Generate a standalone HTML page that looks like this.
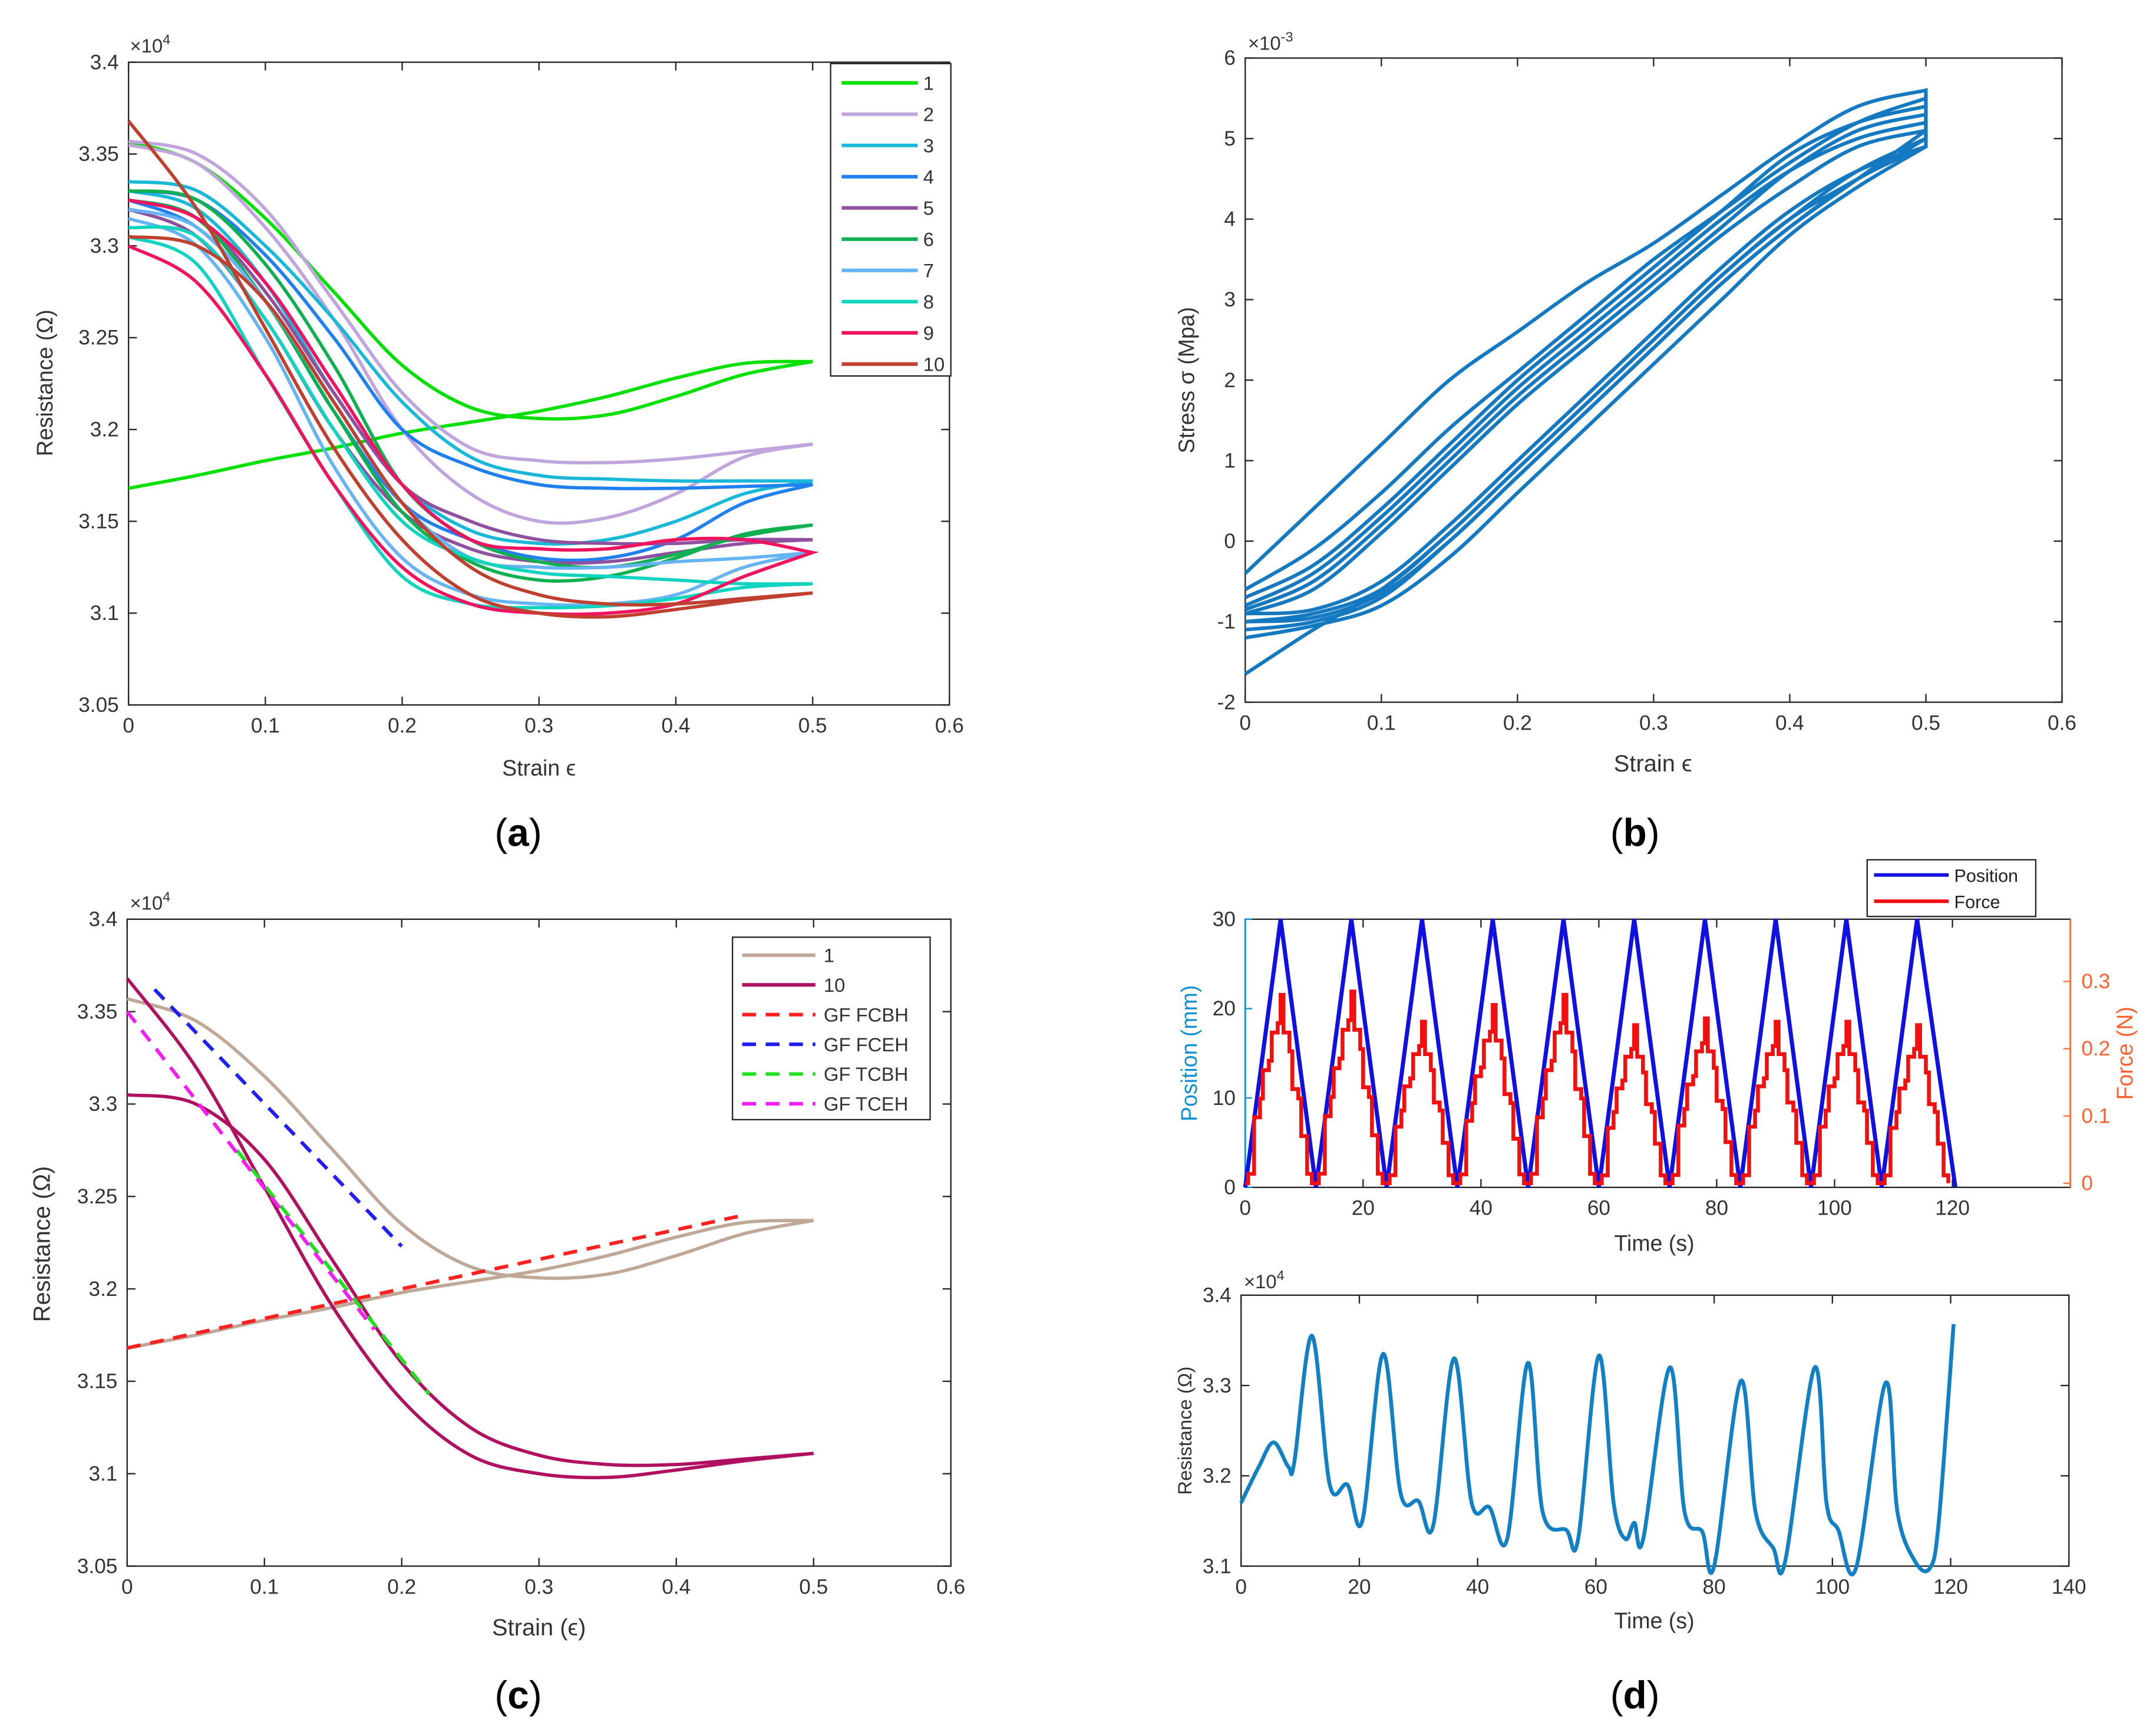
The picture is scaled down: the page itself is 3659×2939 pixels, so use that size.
<!DOCTYPE html>
<html><head><meta charset="utf-8"><style>
html,body{margin:0;padding:0;background:#fff;}
svg{display:block;}
text{font-family:"Liberation Sans",sans-serif;}
</style></head><body>
<svg id="fig" width="3659" height="2939" viewBox="0 0 1560 1253" preserveAspectRatio="none" xmlns="http://www.w3.org/2000/svg"></svg>
<script>
// ---------- DATA ----------
const strainGrid = [0,0.05,0.1,0.15,0.2,0.25,0.3,0.35,0.4,0.45,0.5];
const seriesNames = ["1","2","3","4","5","6","7","8","9","10"];
const seriesColors = ["#00e000","#c0a4dc","#1ab8d8","#2080f0","#9050a0","#10b050","#66b4f4","#10d4c0","#f01460","#c04030"];
const resUpper = [
 [3.357,3.345,3.315,3.275,3.235,3.212,3.206,3.208,3.218,3.23,3.237],
 [3.357,3.35,3.32,3.27,3.22,3.19,3.183,3.182,3.184,3.188,3.192],
 [3.335,3.33,3.3,3.26,3.215,3.185,3.175,3.173,3.172,3.172,3.172],
 [3.33,3.325,3.295,3.25,3.2,3.18,3.17,3.168,3.168,3.169,3.17],
 [3.325,3.315,3.275,3.22,3.17,3.15,3.14,3.138,3.138,3.14,3.14],
 [3.33,3.325,3.29,3.235,3.17,3.14,3.128,3.125,3.132,3.142,3.148],
 [3.32,3.31,3.27,3.215,3.16,3.13,3.125,3.125,3.128,3.13,3.133],
 [3.31,3.305,3.26,3.2,3.15,3.13,3.122,3.12,3.118,3.116,3.116],
 [3.325,3.315,3.28,3.225,3.17,3.14,3.135,3.135,3.14,3.14,3.133],
 [3.368,3.32,3.255,3.19,3.14,3.11,3.1,3.098,3.102,3.107,3.111]];
const resLower = [
 [3.168,3.175,3.183,3.19,3.198,3.204,3.21,3.218,3.228,3.236,3.237],
 [3.355,3.345,3.31,3.26,3.2,3.165,3.15,3.152,3.165,3.185,3.192],
 [3.33,3.32,3.28,3.22,3.17,3.145,3.138,3.14,3.15,3.165,3.172],
 [3.325,3.31,3.27,3.21,3.16,3.14,3.13,3.13,3.14,3.16,3.17],
 [3.32,3.305,3.26,3.2,3.155,3.135,3.128,3.128,3.133,3.138,3.14],
 [3.325,3.315,3.27,3.21,3.155,3.128,3.118,3.12,3.13,3.143,3.148],
 [3.315,3.3,3.25,3.18,3.13,3.11,3.105,3.105,3.11,3.125,3.133],
 [3.305,3.29,3.23,3.17,3.12,3.105,3.103,3.104,3.108,3.114,3.116],
 [3.3,3.28,3.23,3.17,3.125,3.105,3.1,3.1,3.105,3.12,3.133],
 [3.305,3.3,3.27,3.215,3.16,3.125,3.11,3.105,3.105,3.108,3.111]];
const stressUpper = [
 [-0.4,0.4,1.2,2.0,2.6,3.2,3.7,4.3,4.9,5.4,5.6],
 [-0.6,-0.1,0.6,1.4,2.1,2.8,3.5,4.1,4.7,5.2,5.5],
 [-0.8,-0.4,0.3,1.1,1.9,2.6,3.3,4.0,4.6,5.0,5.2],
 [-0.9,-0.6,0.1,0.9,1.7,2.4,3.1,3.8,4.4,4.9,5.1],
 [-0.85,-0.5,0.2,1.0,1.8,2.5,3.2,3.9,4.6,5.1,5.3],
 [-0.7,-0.3,0.4,1.2,2.0,2.7,3.4,4.1,4.8,5.2,5.4]];
const stressLower = [
 [-0.9,-0.85,-0.5,0.2,1.0,1.8,2.6,3.4,4.1,4.6,4.9],
 [-1.1,-1.0,-0.7,0.0,0.8,1.6,2.4,3.2,3.9,4.5,4.9],
 [-1.0,-0.9,-0.6,0.1,0.9,1.7,2.5,3.3,4.0,4.5,5.0],
 [-1.2,-1.05,-0.8,-0.2,0.6,1.4,2.2,3.0,3.8,4.4,4.9],
 [-1.65,-1.1,-0.6,0.1,0.9,1.7,2.5,3.3,4.0,4.6,5.0],
 [-1.0,-0.95,-0.65,0.0,0.8,1.6,2.4,3.2,3.9,4.5,5.1]];
const gfNames = ["GF FCBH","GF FCEH","GF TCBH","GF TCEH"];
const gfColors = ["#ff2020","#2020f0","#20e020","#f020f0"];
const gfX = [[0,0.45],[0.02,0.2],[0.08,0.22],[0,0.18]];
const gfY = [[3.168,3.24],[3.362,3.223],[3.275,3.143],[3.35,3.178]];
const posT = [0,6,12,18,24,30,36,42,48,54,60,66,72,78,84,90,96,102,108,114,120.5];
const posV = [0,30,0,30,0,30,0,30,0,30,0,30,0,30,0,30,0,30,0,30,0];
const forcePeaks = [0.28,0.285,0.24,0.265,0.28,0.235,0.245,0.24,0.24,0.235];
const forceShapeT = [0,0.5,1.5,2.5,3,4,4.5,5.5,6,6.5,7.5,8,9,9.5,10.5,11.3];
const forceShapeV = [0,0.05,0.35,0.45,0.6,0.65,0.8,0.85,1,0.8,0.7,0.5,0.45,0.25,0.05,-0.05];
const resT = [0,3,5.5,8,9,12,15,18,20.5,24,27,30,32.5,36,39,42,45,48.5,51,55,57,60.5,63,65,66.5,68,72.5,75,78,80,84.5,87,90,92,97,99,101,104,109,111,114,116.5,118,120.5];
const resV = [3.17,3.21,3.237,3.21,3.215,3.355,3.19,3.19,3.15,3.335,3.18,3.172,3.145,3.33,3.17,3.165,3.13,3.325,3.16,3.14,3.13,3.333,3.17,3.13,3.148,3.13,3.32,3.16,3.138,3.1,3.305,3.16,3.12,3.105,3.32,3.17,3.14,3.098,3.303,3.16,3.105,3.098,3.15,3.368];

// ---------- HELPERS ----------
const NS="http://www.w3.org/2000/svg";
const svg=document.getElementById('fig');
function mk(tag,attrs,parent){const e=document.createElementNS(NS,tag);for(const k in attrs)e.setAttribute(k,attrs[k]);(parent||svg).appendChild(e);return e;}
function txt(s,x,y,attrs,parent){const e=mk('text',Object.assign({x:x,y:y,'font-size':15,fill:'#333'},attrs||{}),parent);e.textContent=s;return e;}
function lin(d0,d1,r0,r1){return v=>r0+(v-d0)*(r1-r0)/(d1-d0);}
function smooth(pts){let d='M'+pts[0][0].toFixed(2)+','+pts[0][1].toFixed(2);for(let i=0;i<pts.length-1;i++){const p0=pts[i-1]||pts[i],p1=pts[i],p2=pts[i+1],p3=pts[i+2]||p2;const c1=[p1[0]+(p2[0]-p0[0])/6,p1[1]+(p2[1]-p0[1])/6],c2=[p2[0]-(p3[0]-p1[0])/6,p2[1]-(p3[1]-p1[1])/6];d+='C'+c1[0].toFixed(2)+','+c1[1].toFixed(2)+' '+c2[0].toFixed(2)+','+c2[1].toFixed(2)+' '+p2[0].toFixed(2)+','+p2[1].toFixed(2);}return d;}
function axesBox(x0,y0,x1,y1,name){const r=mk('rect',{x:x0,y:y0,width:x1-x0,height:y1-y0,fill:'#fff',stroke:'#262626','stroke-width':1});return r;}
function xTicks(vals,sx,y0,y1,labels,dy){vals.forEach((v,i)=>{const x=sx(v);mk('line',{x1:x,x2:x,y1:y1,y2:y1-6,stroke:'#262626'});mk('line',{x1:x,x2:x,y1:y0,y2:y0+6,stroke:'#262626'});const t=txt(labels[i],x,y1+dy,{'text-anchor':'middle'});});}
function yTicks(vals,sy,x0,x1,labels,color,right){vals.forEach((v,i)=>{const y=sy(v);if(!right){mk('line',{x1:x0,x2:x0+6,y1:y,y2:y,stroke:'#262626'});mk('line',{x1:x1,x2:x1-6,y1:y,y2:y,stroke:'#262626'});}const t=txt(labels[i],right?x1+8:x0-7,y+5,{'text-anchor':right?'start':'end',fill:color||'#333'});});}
function rotLabel(s,x,y,attrs){const t=txt(s,x,y,Object.assign({'text-anchor':'middle','font-size':16,transform:'rotate(-90 '+x+' '+y+')'},attrs||{}));return t;}
function expo(x,y,e){const t=mk('text',{x:x,y:y,'font-size':14,fill:'#333'});t.innerHTML='×10<tspan dy="-6" font-size="10">'+e+'</tspan>';}
function panelLabel(s,x,y){const t=mk('text',{x:x,y:y,'font-size':28,'text-anchor':'middle',fill:'#000','font-family':'Liberation Serif, serif'});t.innerHTML='(<tspan font-weight="bold">'+s+'</tspan>)';}
const strainTicks=[0,0.1,0.2,0.3,0.4,0.5,0.6];
const strainLabels=["0","0.1","0.2","0.3","0.4","0.5","0.6"];
const resTicks=[3.05,3.1,3.15,3.2,3.25,3.3,3.35,3.4];
const resLabels=["3.05","3.1","3.15","3.2","3.25","3.3","3.35","3.4"];

// ---------- PANEL A ----------
(function(){const x0=93,x1=687,y0=45,y1=510;axesBox(x0,y0,x1,y1,'panel-a-axes');
const sx=lin(0,0.6,x0,x1),sy=lin(3.05,3.4,y1,y0);
xTicks(strainTicks,sx,y0,y1,strainLabels,20);yTicks(resTicks,sy,x0,x1,resLabels);
expo(94,38,4);
const yl=rotLabel('Resistance (Ω)',38,277);
const xl=txt('Strain ϵ',390,561,{'text-anchor':'middle','font-size':16});
seriesNames.forEach((n,i)=>{const up=strainGrid.map((s,j)=>[sx(s),sy(resUpper[i][j])]);const lo=strainGrid.map((s,j)=>[sx(s),sy(resLower[i][j])]);
const p=mk('path',{d:smooth(lo)+' '+smooth(up.slice().reverse()).replace('M','L'),fill:'none',stroke:seriesColors[i],'stroke-width':2.4});
});
const lg=mk('g',{});
mk('rect',{x:601,y:46,width:87,height:226,fill:'#fff',stroke:'#262626'},lg);
seriesNames.forEach((n,i)=>{const y=60+i*22.6;mk('line',{x1:609,x2:664,y1:y,y2:y,stroke:seriesColors[i],'stroke-width':2.6},lg);const t=txt(n,668,y+5,{'font-size':14},lg);});
panelLabel('a',375,612);})();

// ---------- PANEL B ----------
(function(){const x0=901,x1=1492,y0=42,y1=508;axesBox(x0,y0,x1,y1,'panel-b-axes');
const sx=lin(0,0.6,x0,x1),sy=lin(-2,6,y1,y0);
xTicks(strainTicks,sx,y0,y1,strainLabels,20);
const st=[-2,-1,0,1,2,3,4,5,6];yTicks(st,sy,x0,x1,st.map(String));
const e=mk('text',{x:903,y:36,'font-size':14,fill:'#333'});e.innerHTML='×10<tspan dy="-6" font-size="10">-3</tspan>';
const yl=rotLabel('Stress σ  (Mpa)',864,275);
const xl=txt('Strain  ϵ',1196,558,{'text-anchor':'middle','font-size':17});
stressUpper.forEach((u,i)=>{const up=strainGrid.map((s,j)=>[sx(s),sy(u[j])]);const lo=strainGrid.map((s,j)=>[sx(s),sy(stressLower[i][j])]);
const p=mk('path',{d:smooth(lo)+' '+smooth(up.slice().reverse()).replace('M','L'),fill:'none',stroke:'#1479c0','stroke-width':2.6});
});
panelLabel('b',1183,612);})();

// ---------- PANEL C ----------
(function(){const x0=92,x1=688,y0=665,y1=1133;axesBox(x0,y0,x1,y1,'panel-c-axes');
const sx=lin(0,0.6,x0,x1),sy=lin(3.05,3.4,y1,y0);
xTicks(strainTicks,sx,y0,y1,strainLabels,20);yTicks(resTicks,sy,x0,x1,resLabels);
expo(94,658,4);
const yl=rotLabel('Resistance  (Ω)',36,900,{'font-size':17});
const xl=txt('Strain  (ϵ)',390,1183,{'text-anchor':'middle','font-size':17});
const cc=[[0,'#c0a898','1'],[9,'#b01060','10']];
cc.forEach(([i,c,n])=>{const up=strainGrid.map((s,j)=>[sx(s),sy(resUpper[i][j])]);const lo=strainGrid.map((s,j)=>[sx(s),sy(resLower[i][j])]);
const p=mk('path',{d:smooth(lo)+' '+smooth(up.slice().reverse()).replace('M','L'),fill:'none',stroke:c,'stroke-width':2.4});});
gfNames.forEach((n,i)=>{const l=mk('line',{x1:sx(gfX[i][0]),y1:sy(gfY[i][0]),x2:sx(gfX[i][1]),y2:sy(gfY[i][1]),stroke:gfColors[i],'stroke-width':2.6,'stroke-dasharray':'10,7'});});
const lg=mk('g',{});
mk('rect',{x:530,y:678,width:143,height:132,fill:'#fff',stroke:'#262626'},lg);
const names=['1','10'].concat(gfNames),cols=['#c0a898','#b01060'].concat(gfColors);
names.forEach((n,i)=>{const y=691+i*21.5;mk('line',{x1:537,x2:590,y1:y,y2:y,stroke:cols[i],'stroke-width':2.6,'stroke-dasharray':i>1?'10,7':'none'},lg);const t=txt(n,596,y+5,{'font-size':14},lg);});
panelLabel('c',375,1236);})();

// ---------- PANEL D TOP ----------
(function(){const x0=901,x1=1498,y0=665,y1=859;axesBox(x0,y0,x1,y1,'panel-d-top-axes');
const sx=lin(0,140,x0,x1),sy=lin(0,30,y1,y0),sf=lin(0,0.3,856,710);
const tt=[0,20,40,60,80,100,120,140];xTicks(tt,sx,y0,y1,["0","20","40","60","80","100","120",""],20);
[0,10,20,30].forEach(v=>{const t=txt(String(v),x0-7,sy(v)+5,{'text-anchor':'end',fill:'#333'});mk('line',{x1:x0,x2:x0+5,y1:sy(v),y2:sy(v),stroke:'#1090d0'});});
mk('line',{x1:x0,x2:x0,y1:y0,y2:y1,stroke:'#1090d0','stroke-width':1.2});
mk('line',{x1:x1,x2:x1,y1:y0,y2:y1,stroke:'#ff7040','stroke-width':1.2});
[0,0.1,0.2,0.3].forEach(v=>{const t=txt(v===0?'0':String(v),x1+8,sf(v)+5,{fill:'#ff6030'});mk('line',{x1:x1,x2:x1-5,y1:sf(v),y2:sf(v),stroke:'#ff7040'});});
const yl=rotLabel('Position (mm)',866,762,{fill:'#1090d0'});
const yr=rotLabel('Force (N)',1543,762,{fill:'#ff6030'});
const xl=txt('Time (s)',1197,905,{'text-anchor':'middle','font-size':16});
const pp=mk('polyline',{points:posT.map((t,i)=>sx(t)+','+sy(posV[i])).join(' '),fill:'none',stroke:'#1010e0','stroke-width':3});
let fp=[];forcePeaks.forEach((pk,k)=>{forceShapeT.forEach((t,j)=>{fp.push([sx(12*k+t),sf(Math.max(0,forceShapeV[j]*pk))]);});});
let d='M'+fp[0][0]+','+fp[0][1];for(let i=1;i<fp.length;i++){d+='L'+fp[i][0].toFixed(1)+','+fp[i-1][1].toFixed(1)+'L'+fp[i][0].toFixed(1)+','+fp[i][1].toFixed(1);}
const fl=mk('path',{d:d,fill:'none',stroke:'#f01010','stroke-width':2.8});
const lg=mk('g',{});
mk('rect',{x:1351,y:622,width:122,height:41,fill:'#fff',stroke:'#262626'},lg);
mk('line',{x1:1356,x2:1410,y1:633,y2:633,stroke:'#1010e0','stroke-width':2.6},lg);
mk('line',{x1:1356,x2:1410,y1:652,y2:652,stroke:'#f01010','stroke-width':2.6},lg);
let t=txt('Position',1414,638,{'font-size':13,fill:'#222'},lg);
t=txt('Force',1414,657,{'font-size':13,fill:'#222'},lg);})();

// ---------- PANEL D BOTTOM ----------
(function(){const x0=898,x1=1497,y0=937,y1=1133;axesBox(x0,y0,x1,y1,'panel-d-bottom-axes');
const sx=lin(0,140,x0,x1),sy=lin(3.1,3.4,y1,y0);
const tt=[0,20,40,60,80,100,120,140];xTicks(tt,sx,y0,y1,tt.map(String),20);
const rt=[3.1,3.2,3.3,3.4];yTicks(rt,sy,x0,x1,rt.map(String));
expo(900,932,4);
const yl=rotLabel('Resistance (Ω)',862,1035,{'font-size':14});
const xl=txt('Time (s)',1197,1178,{'text-anchor':'middle','font-size':16});
const p=mk('path',{d:smooth(resT.map((t,i)=>[sx(t),sy(resV[i])])),fill:'none',stroke:'#1480c4','stroke-width':2.8});
panelLabel('d',1183,1236);})();
</script>
</body></html>
